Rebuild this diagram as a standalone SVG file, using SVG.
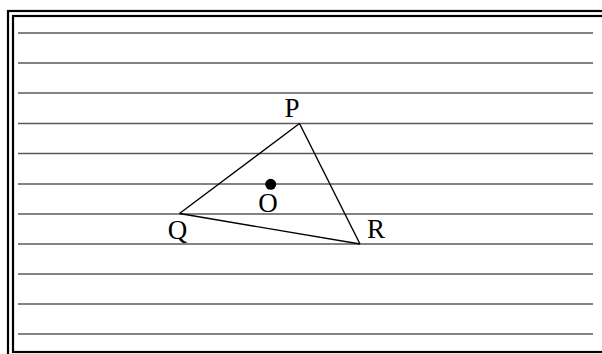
<svg xmlns="http://www.w3.org/2000/svg" width="602" height="354" viewBox="0 0 602 354">
<style>
.frame{fill:none;stroke:#000;stroke-width:2.2}
.rule{stroke:#5a5a5a;stroke-width:1.6}
.edge{stroke:#000;stroke-width:1.4;fill:none}
.lbl{font-family:"Liberation Serif","DejaVu Serif",serif;font-size:27px;fill:#000;text-anchor:middle}
</style>
<rect width="602" height="354" fill="#fff"/>
<g id="frame">
<rect class="frame" x="8" y="11" width="610" height="360"/>
<rect class="frame" x="13" y="16" width="600" height="336"/>
</g>
<g id="rules">
<line class="rule" x1="18" y1="33" x2="593" y2="33"/>
<line class="rule" x1="18" y1="63" x2="593" y2="63"/>
<line class="rule" x1="18" y1="93" x2="593" y2="93"/>
<line class="rule" x1="18" y1="123.5" x2="593" y2="123.5"/>
<line class="rule" x1="18" y1="153.5" x2="593" y2="153.5"/>
<line class="rule" x1="18" y1="184" x2="593" y2="184"/>
<line class="rule" x1="18" y1="214" x2="593" y2="214"/>
<line class="rule" x1="18" y1="244" x2="593" y2="244"/>
<line class="rule" x1="18" y1="274" x2="593" y2="274"/>
<line class="rule" x1="18" y1="304" x2="593" y2="304"/>
<line class="rule" x1="18" y1="334" x2="593" y2="334"/>
</g>
<g id="connectors">
<line class="edge" x1="299.5" y1="123.5" x2="179.5" y2="213.5"/>
<line class="edge" x1="299.5" y1="123.5" x2="360" y2="244"/>
<line class="edge" x1="179.5" y1="213.5" x2="360" y2="244"/>
</g>
<g id="P"><text class="lbl" x="292" y="117">P</text></g>
<g id="Q"><text class="lbl" x="177.5" y="239">Q</text></g>
<g id="R"><text class="lbl" x="376" y="238">R</text></g>
<g id="O"><circle cx="270.7" cy="184.3" r="5.5" fill="#000"/><text class="lbl" x="268" y="212">O</text></g>
</svg>
